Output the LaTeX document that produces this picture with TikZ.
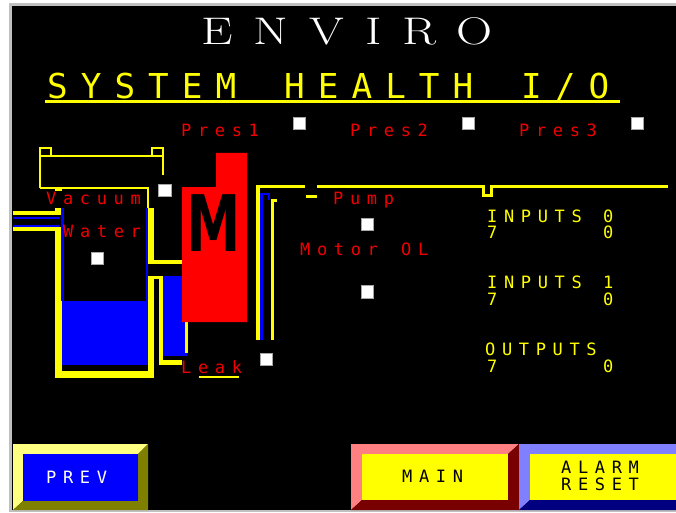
\documentclass[tikz,border=0pt]{standalone}
\usepackage{fontspec}
\newfontfamily\hmi[LetterSpace=39]{DejaVu Sans Mono}
\newfontfamily\hmibig[LetterSpace=38]{DejaVu Sans Mono}
\newfontfamily\envfont[LetterSpace=42]{Latin Modern Roman}
\newfontfamily\mfont{DejaVu Sans}
\definecolor{ylw}{RGB}{255,255,0}
\definecolor{blu}{RGB}{0,0,255}
\definecolor{hred}{RGB}{240,0,0}
\definecolor{mred}{RGB}{255,0,0}
\definecolor{hgrey}{RGB}{192,192,192}
\definecolor{ltyel}{RGB}{255,255,128}
\definecolor{olive}{RGB}{128,128,0}
\definecolor{pink}{RGB}{255,128,128}
\definecolor{dkred}{RGB}{120,0,0}
\definecolor{ltblu}{RGB}{128,128,255}
\definecolor{navy}{RGB}{0,0,128}
\tikzset{
  lbl/.style={inner sep=0pt, anchor=base west, text=hred, font=\hmi\fontsize{17}{19}\selectfont},
  ylbl/.style={lbl, text=ylw},
  sq/.style={fill=white, draw=gray!70, line width=0.8pt, minimum size=12.5pt, inner sep=0pt},
  capline/.style={ylw, line width=2.4pt},
}
\begin{document}
\begin{tikzpicture}[x=1pt,y=-1pt]
\useasboundingbox (0,0) rectangle (676,513);
\fill[white] (0,0) rectangle (676,513);
\fill[hgrey] (9,3) rectangle (676,512);
\fill[black] (12,6) rectangle (676,510);

% titles
\node[anchor=base west, inner sep=0pt, text=white, font=\envfont\fontsize{38.5}{40}\selectfont] (title) at (201,45) {\scalebox{1.3}[1]{ENVIRO}};
\node[anchor=base west, inner sep=0pt, text=ylw, font=\hmibig\fontsize{34.3}{36}\selectfont] (sub1) at (47,99) {SYSTEM};
\node[anchor=base west, inner sep=0pt, text=ylw, font=\hmibig\fontsize{34.3}{36}\selectfont] (sub2) at (284,99) {HEALTH};
\node[anchor=base west, inner sep=0pt, text=ylw, font=\hmibig\fontsize{34.3}{36}\selectfont] (sub3) at (521,99) {I/O};
\draw[ylw, line width=2.5pt] (45,101.5) -- (620,101.5);

% pressure labels
\node[lbl] (p1) at (181,137) {Pres1};
\node[lbl] (p2) at (350,137) {Pres2};
\node[lbl] (p3) at (519,137) {Pres3};
\node[sq] (sqp1) at (299.5,123.5) {};
\node[sq] (sqp2) at (468.5,123.5) {};
\node[sq] (sqp3) at (637.5,123.5) {};

% vacuum cap
\draw[capline] (40,188) -- (40,156) -- (163,156) -- (163,175);
\draw[capline] (40,188) -- (148,188) -- (148,208);
\draw[capline] (40,148) rectangle (51,156);
\draw[capline] (152,148) rectangle (163,156);

% tank and left pipe
\fill[ylw] (13,211) rectangle (62,215);
\fill[ylw] (55,208) rectangle (62,215);
\fill[ylw] (13,227) rectangle (62,230.5);
\fill[blu] (13,216.5) rectangle (60,219);
\fill[blu] (13,224.5) rectangle (60,227);
\fill[ylw] (55,188) rectangle (62,191);
\fill[ylw] (55,227) rectangle (62,378);
\fill[ylw] (55,371) rectangle (154,378);
\fill[ylw] (148,208) rectangle (154,263);
\fill[ylw] (148,276) rectangle (154,378);
\fill[ylw] (148,260) rectangle (182,264);
\fill[blu] (61,208) rectangle (64,301);
\fill[blu] (146,208) rectangle (148,301);
\fill[blu] (62,301) rectangle (148,365);

% leak channel
\fill[ylw] (154,276) rectangle (163,279);
\fill[ylw] (159,276) rectangle (163,365);
\fill[ylw] (159,360) rectangle (182,365);
\fill[blu] (163,276) rectangle (187,356);
\fill[ylw] (185,322) rectangle (187.5,353);

% motor
\fill[mred] (182,187) -- (216,187) -- (216,153) -- (247,153) -- (247,322) -- (182,322) -- cycle;
\node[inner sep=0pt, text=black, font=\mfont\bfseries\fontsize{78}{80}\selectfont] (mot) at (213.5,223.5) {\scalebox{0.7}[1]{M}};

% right pipe
\fill[ylw] (256,185) rectangle (259.5,340);
\fill[ylw] (256,185) rectangle (305,188);
\fill[ylw] (317,185) rectangle (482,188);
\fill[ylw] (482,185) rectangle (485,197);
\fill[ylw] (482,194) rectangle (493,197);
\fill[ylw] (490,185) rectangle (493,197);
\fill[ylw] (493,185) rectangle (668,188);
\fill[blu] (260,193) rectangle (262.7,340);
\fill[blu] (260,193) rectangle (270,195);
\fill[blu] (268,193) rectangle (270,200);
\fill[ylw] (271,199) rectangle (274,340);
\fill[ylw] (271,199) rectangle (277,202);
\fill[ylw] (306,195) rectangle (317,197.5);

% tank labels
\node[lbl] (vac) at (46,204) {Vacuum};
\node[lbl] (wat) at (63,237) {Water};
\node[sq] (sqvac) at (165,190.5) {};
\node[sq] (sqwat) at (97.5,258.5) {};
\node[lbl] (pump) at (333,204) {Pump};
\node[sq] (sqpump) at (367.5,224.5) {};
\node[lbl] (mol1) at (300,255) {Motor};
\node[lbl] (mol2) at (401,255) {OL};
\node[sq] (sqmol) at (367.5,292) {};
\node[lbl] (leak) at (181,373) {Leak};
\fill[ylw] (199,376) rectangle (239,378);
\node[sq] (sqleak) at (266.5,359.5) {};

% I/O labels
\node[ylbl] (in0) at (487,222) {INPUTS};
\node[ylbl] (in0n) at (603,222) {0};
\node[ylbl] (in0a) at (487,238.5) {7};
\node[ylbl] (in0b) at (603,238.5) {0};
\node[ylbl] (in1) at (487,288) {INPUTS};
\node[ylbl] (in1n) at (603,288) {1};
\node[ylbl] (in1a) at (487,305) {7};
\node[ylbl] (in1b) at (603,305) {0};
\node[ylbl] (out) at (485,355) {OUTPUTS};
\node[ylbl] (outa) at (487,372) {7};
\node[ylbl] (outb) at (603,372) {0};

% PREV button
\fill[ltyel] (13,444) -- (148,444) -- (138,454) -- (23,454) -- (23,501) -- (13,510) -- cycle;
\fill[olive] (148,444) -- (148,510) -- (13,510) -- (23,501) -- (138,501) -- (138,454) -- cycle;
\fill[blu] (23,454) rectangle (138,501);
\node[lbl, text=white] (prev) at (46,483) {PREV};

% MAIN button
\fill[pink] (351,444) -- (519,444) -- (508,454) -- (362,454) -- (362,500) -- (351,510) -- cycle;
\fill[dkred] (519,444) -- (519,510) -- (351,510) -- (362,500) -- (508,500) -- (508,454) -- cycle;
\fill[ylw] (362,454) rectangle (508,500);
\node[lbl, text=black] (main) at (402,482) {MAIN};

% ALARM RESET button
\fill[ltblu] (519,444) -- (676,444) -- (676,454) -- (530,454) -- (530,500) -- (519,510) -- cycle;
\fill[navy] (519,510) -- (676,510) -- (676,500) -- (530,500) -- cycle;
\fill[ylw] (530,454) rectangle (676,500);
\node[lbl, text=black] (alarm) at (561,473) {ALARM};
\node[lbl, text=black] (reset) at (561,490) {RESET};
\end{tikzpicture}
\end{document}
